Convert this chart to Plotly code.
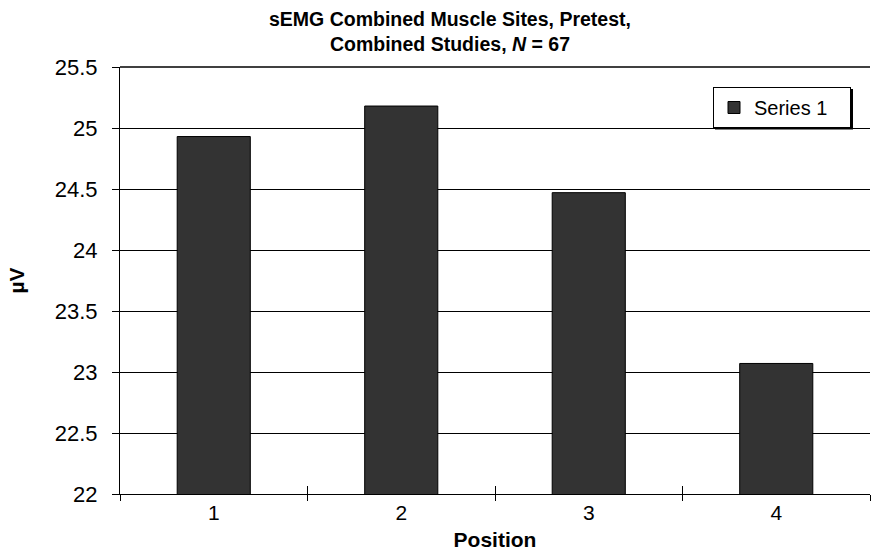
import plotly.graph_objects as go

positions = [1, 2, 3, 4]
position_labels = ["1", "2", "3", "4"]
values = [24.93, 25.18, 24.47, 23.07]
series_name = "Series 1"
y_ticks = [22, 22.5, 23, 23.5, 24, 24.5, 25, 25.5]
boundaries = [0.5, 1.5, 2.5, 3.5, 4.5]
title_text = "sEMG Combined Muscle Sites, Pretest,<br>Combined Studies, <i>N</i> = 67"

FONT = "Liberation Sans, Arial, sans-serif"
W, H = 873, 553
L, R, T, B = 120, 3, 67, 59
PW, PH = W - L - R, H - T - B


def px_x(p):
    return (p - L) / PW


def px_y(p):
    return 1 - (p - T) / PH


fig = go.Figure()
fig.add_trace(go.Bar(
    x=positions, y=values, name=series_name + "&nbsp;&nbsp;&nbsp;", width=0.39,
    marker=dict(color="#333333", line=dict(color="black", width=1)),
    showlegend=True,
))
fig.add_trace(go.Scatter(x=[None], y=[None], xaxis="x2", showlegend=False, hoverinfo="skip"))
fig.add_trace(go.Scatter(x=[None], y=[None], xaxis="x3", showlegend=False, hoverinfo="skip"))

fig.update_layout(
    width=W, height=H,
    margin=dict(l=L, r=R, t=T, b=B),
    paper_bgcolor="white", plot_bgcolor="white",
    font=dict(family=FONT, color="black"),
    xaxis=dict(
        range=[0.5, 4.5], tickmode="array", tickvals=positions, ticktext=position_labels,
        ticks="", showgrid=False, zeroline=False,
        showline=True, linecolor="black", linewidth=1,
        tickfont=dict(size=21, family=FONT), ticklabelstandoff=0,
        title=dict(text="<b>Position</b>", font=dict(size=21, family=FONT), standoff=9),
    ),
    xaxis2=dict(
        overlaying="x", range=[0.5, 4.5], tickmode="array", tickvals=boundaries,
        ticks="outside", ticklen=6, tickcolor="black", tickwidth=1,
        showticklabels=False, showgrid=False, zeroline=False, showline=False,
        anchor="y",
    ),
    xaxis3=dict(
        overlaying="x", range=[0.5, 4.5], tickmode="array", tickvals=boundaries,
        ticks="inside", ticklen=8, tickcolor="black", tickwidth=1,
        showticklabels=False, showgrid=False, zeroline=False, showline=False,
        anchor="y",
    ),
    yaxis=dict(
        range=[22, 25.5], tickmode="array", tickvals=y_ticks,
        ticks="outside", ticklen=7, tickcolor="black", tickwidth=1,
        showgrid=True, gridcolor="black", gridwidth=1, zeroline=False,
        showline=True, linecolor="black", linewidth=1,
        tickfont=dict(size=22, family=FONT), ticklabelstandoff=10,
        title=dict(text="<b>µV</b>", font=dict(size=21, family=FONT), standoff=24),
    ),
    legend=dict(
        x=px_x(713), y=px_y(87), xanchor="left", yanchor="top",
        bgcolor="white", bordercolor="black", borderwidth=1,
        font=dict(size=20, family=FONT), itemwidth=30,
    ),
    annotations=[
        dict(text=title_text, xref="paper", yref="paper", x=px_x(450), y=px_y(6),
             xanchor="center", yanchor="top", showarrow=False, align="center",
             font=dict(family=FONT, size=19.5, color="black", weight="bold")),
    ],
    shapes=[
        dict(type="line", xref="paper", yref="paper", x0=0, x1=1, y0=1, y1=1,
             line=dict(color="black", width=1.5)),
        dict(type="rect", xref="paper", yref="paper",
             x0=px_x(715), x1=px_x(853), y0=px_y(129.5), y1=px_y(89),
             fillcolor="black", line=dict(width=0), layer="above"),
    ],
)

fig.write_html("out.html", config={"displayModeBar": False},
               post_script="document.body.style.margin='0';document.body.style.padding='0';")
